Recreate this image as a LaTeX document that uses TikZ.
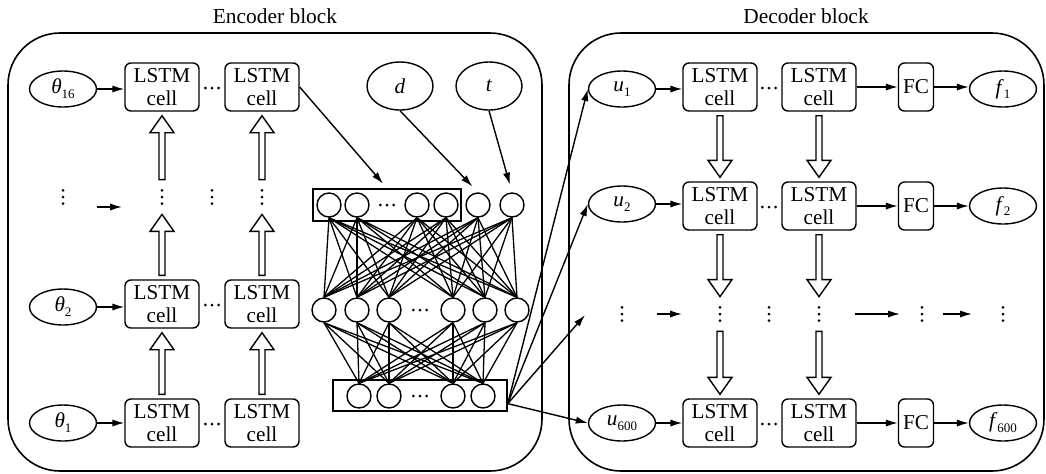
\documentclass[tikz,border=0pt]{standalone}
\usepackage{fontspec}
\setmainfont{Liberation Serif}
\usetikzlibrary{shapes.geometric,arrows.meta,calc}

% italic symbol with a small upright index
\newcommand\sym[2]{\textit{#1}\raisebox{-0.5ex}{\fontsize{6.5}{6.5}\selectfont #2}}

% hollow block arrow between two anchors
\newcommand\hollowarrow[2]{%
  \draw[hollowarr] let \p1=($(#1)!2pt!(#2)$), \p2=($(#2)!2pt!(#1)$),
      \n1={(\y2-\y1)/abs(\y2-\y1)} in
    (\x1-1.5pt,\y1) -- (\x1-1.5pt,\y2-\n1*8.5pt) -- (\x1-6pt,\y2-\n1*8.5pt)
    -- (\x2,\y2) -- (\x1+6pt,\y2-\n1*8.5pt) -- (\x1+1.5pt,\y2-\n1*8.5pt)
    -- (\x1+1.5pt,\y1) -- cycle;}

\begin{document}
\begin{tikzpicture}[x=0.5pt,y=-0.5pt,
  every node/.style={font=\rmfamily\fontsize{10.6}{11.5}\selectfont},
  blk/.style={draw, rounded corners=26pt, line width=0.8pt, inner sep=0pt},
  title/.style={font=\rmfamily\fontsize{10.7}{12}\selectfont},
  cellbox/.style={draw, rounded corners=3pt, minimum width=37pt, minimum height=24pt,
    inner sep=0pt, align=center, line width=0.7pt},
  fcbox/.style={draw, rounded corners=3pt, minimum width=17.5pt, minimum height=24pt,
    inner sep=0pt, line width=0.7pt},
  ell/.style={draw, ellipse, minimum width=33.5pt, minimum height=18pt, inner sep=0pt,
    line width=0.7pt},
  bigell/.style={draw, ellipse, minimum width=33pt, minimum height=24pt, inner sep=0pt,
    line width=0.7pt},
  neuron/.style={draw, circle, minimum size=12pt, inner sep=0pt, line width=0.7pt},
  layer/.style={draw, inner sep=0pt, line width=0.75pt},
  vd/.style={minimum width=2pt, minimum height=13pt, inner sep=0pt,
    path picture={\foreach \k in {-1,0,1}
      \fill ($(path picture bounding box.center)+(0,\k*3.3pt)$) circle (0.75pt);}},
  hd/.style={minimum width=10pt, minimum height=2pt, inner sep=0pt,
    path picture={\foreach \k in {-1,0,1}
      \fill ($(path picture bounding box.center)+(\k*3.3pt,0)$) circle (0.75pt);}},
  arr/.style={-{Latex[length=6pt,width=3.6pt]}, line width=0.7pt},
  net/.style={line width=0.65pt},
  hollowarr/.style={draw, fill=white, line width=0.7pt, line join=miter}
]
\useasboundingbox (0,0) rectangle (1046,473);

% ---------------- blocks ----------------
\node[blk, minimum width=267pt, minimum height=219pt] (enc) at (275,252) {};
\node[blk, minimum width=237.5pt, minimum height=219pt] (dec) at (806.5,252) {};
\node[title] (enct) at (275,16) {Encoder block};
\node[title] (dect) at (806,16) {Decoder block};

% ---------------- encoder LSTM stack ----------------
\node[ell] (th16) at (63,89) {\sym{θ}{16}};
\node[cellbox] (e11) at (162,87) {LSTM\\cell};
\node[cellbox] (e12) at (262,87) {LSTM\\cell};
\node[hd] (eh1) at (212,88) {};

\node[vd] (ev0) at (63,197) {};
\node[vd] (ev1) at (162,197) {};
\node[vd] (evm) at (212,197) {};
\node[vd] (ev2) at (262,197) {};
\coordinate (ea0) at (97,207);
\coordinate (ea1) at (122,207);

\node[ell] (th2) at (63,307) {\sym{θ}{2}};
\node[cellbox] (e21) at (162,304) {LSTM\\cell};
\node[cellbox] (e22) at (262,304) {LSTM\\cell};
\node[hd] (eh2) at (212,305) {};

\node[ell] (th1) at (63,423) {\sym{θ}{1}};
\node[cellbox] (e31) at (162,423) {LSTM\\cell};
\node[cellbox] (e32) at (262,423) {LSTM\\cell};
\node[hd] (eh3) at (212,424) {};

\draw[arr] (th16.east) -- (th16.east -| e11.west);
\draw[arr] (ea0) -- (ea1);
\draw[arr] (th2.east) -- (th2.east -| e21.west);
\draw[arr] (th1) -- (e31);

\hollowarrow{e31.north}{e21.south}
\hollowarrow{e32.north}{e22.south}
\hollowarrow{e21.north}{ev1.south}
\hollowarrow{e22.north}{ev2.south}
\hollowarrow{ev1.north}{e11.south}
\hollowarrow{ev2.north}{e12.south}

% ---------------- extra inputs ----------------
\node[bigell] (d) at (400,86) {\textit{d}};
\node[bigell] (t) at (489,86) {\textit{t}};

% ---------------- fully connected network ----------------
\node[layer, minimum width=74pt, minimum height=16pt] (tbox) at (387,205) {};
\node[layer, minimum width=87pt, minimum height=15.5pt] (bbox) at (420,395.5) {};

\node[neuron] (n1) at (329,205) {};
\node[neuron] (n2) at (357,205) {};
\node[hd] (nh) at (387,205) {};
\node[neuron] (n3) at (417,205) {};
\node[neuron] (n4) at (446,205) {};
\node[neuron] (n5) at (478,205) {};
\node[neuron] (n6) at (512,205) {};

\node[neuron] (m1) at (324,310) {};
\node[neuron] (m2) at (357,310) {};
\node[neuron] (m3) at (389,310) {};
\node[hd] (mh) at (420,310) {};
\node[neuron] (m4) at (453,310) {};
\node[neuron] (m5) at (485,310) {};
\node[neuron] (m6) at (517,310) {};

\node[neuron] (b1) at (359,396) {};
\node[neuron] (b2) at (389,396) {};
\node[hd] (bh) at (420,396) {};
\node[neuron] (b3) at (453,396) {};
\node[neuron] (b4) at (483,396) {};

\foreach \i in {1,...,6}
  \foreach \j in {1,...,6}
    \draw[net] (n\i.south) -- (m\j.north);
\foreach \i in {1,...,6}
  \foreach \j in {1,...,4}
    \draw[net] (m\i.south) -- (b\j.north);

\draw[arr, shorten >=3pt] (e12.east) -- (tbox.north);
\draw[arr, shorten >=4pt] (d.south) -- (n5.north);
\draw[arr, shorten >=4pt] (t.south) -- (n6.north);

% ---------------- decoder LSTM stack ----------------
\node[ell] (u1) at (622,89) {\sym{u}{1}};
\node[cellbox] (d11) at (720,87) {LSTM\\cell};
\node[cellbox] (d12) at (819,87) {LSTM\\cell};
\node[hd] (dh1) at (769,88) {};
\node[fcbox] (fc1) at (916,87) {FC};
\node[ell] (f1) at (1003,89) {\sym{f}{1}};

\node[ell] (u2) at (622,204) {\sym{u}{2}};
\node[cellbox] (d21) at (720,206) {LSTM\\cell};
\node[cellbox] (d22) at (819,206) {LSTM\\cell};
\node[hd] (dh2) at (769,207) {};
\node[fcbox] (fc2) at (916,206) {FC};
\node[ell] (f2) at (1003,206) {\sym{f}{2}};

\node[vd] (dv0) at (622,314) {};
\node[vd] (dv1) at (720,314) {};
\node[vd] (dvm) at (769,314) {};
\node[vd] (dv2) at (819,314) {};
\node[vd] (dv3) at (922,314) {};
\node[vd] (dv4) at (1003,314) {};
\coordinate (da0) at (657,314);
\coordinate (da1) at (682,314);
\coordinate (db0) at (855,314);
\coordinate (db1) at (900,314);
\coordinate (dc0) at (943,314);
\coordinate (dc1) at (972,314);

\node[ell] (u600) at (622,423) {\sym{u}{600}};
\node[cellbox] (d31) at (720,423) {LSTM\\cell};
\node[cellbox] (d32) at (819,423) {LSTM\\cell};
\node[hd] (dh3) at (769,424) {};
\node[fcbox] (fc3) at (916,423) {FC};
\node[ell] (f600) at (1003,423) {\sym{f}{600}};

\foreach \r/\u/\f in {1/u1/f1, 2/u2/f2, 3/u600/f600} {
  \draw[arr] (\u.east -| \u.east) -- (\u.east -| d\r1.west);
  \draw[arr] (d\r2) -- (fc\r);
  \draw[arr] (fc\r.east) -- (fc\r.east -| \f.west);
}
\draw[arr] (da0) -- (da1);
\draw[arr] (db0) -- (db1);
\draw[arr] (dc0) -- (dc1);

\hollowarrow{d11.south}{d21.north}
\hollowarrow{d12.south}{d22.north}
\hollowarrow{d21.south}{dv1.north}
\hollowarrow{d22.south}{dv2.north}
\hollowarrow{dv1.south}{d31.north}
\hollowarrow{dv2.south}{d32.north}

% ---------------- encoder output to decoder inputs ----------------
\coordinate (src) at ($(bbox.south east)!0.25!(bbox.north east)$);
\coordinate (dvin) at (585,315);
\draw[arr] (src) -- (u1.west);
\draw[arr] (src) -- (u2.west);
\draw[arr] (src) -- (dvin);
\draw[arr] (src) -- (u600.west);
\end{tikzpicture}
\end{document}
